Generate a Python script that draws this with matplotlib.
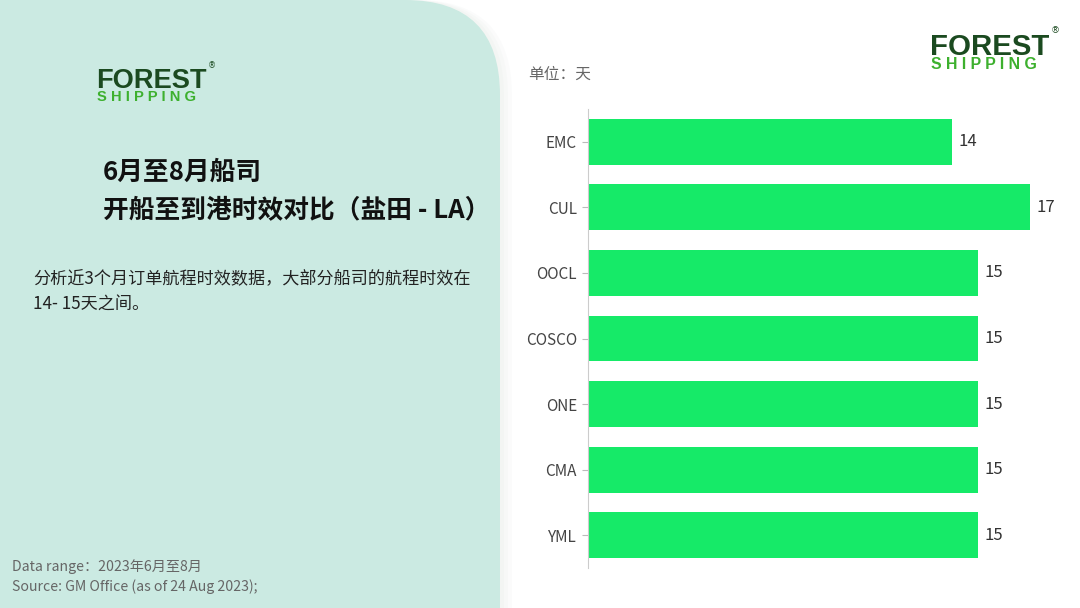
import numpy as np
import matplotlib
matplotlib.use("Agg")
import matplotlib.pyplot as plt
from matplotlib.patches import FancyBboxPatch

plt.rcParams["font.family"] = ["Noto Sans CJK SC", "DejaVu Sans"]

carriers = ["EMC", "CUL", "OOCL", "COSCO", "ONE", "CMA", "YML"]
days = [14, 17, 15, 15, 15, 15, 15]

title_lines = ["6月至8月船司", "开船至到港时效对比（盐田 - LA）"]
note_lines = ["分析近3个月订单航程时效数据，大部分船司的航程时效在", "14- 15天之间。"]
footer_lines = ["Data range：2023年6月至8月", "Source: GM Office (as of 24 Aug 2023);"]

BAR = "#16EA68"
PANEL = "#CBEAE2"
DARK = "#1B4A20"
LIGHT = "#3DB02E"
LOGO_FONT = "Liberation Sans"

W, H = 1080, 608
fig = plt.figure(figsize=(W / 100, H / 100), dpi=100)
fig.patch.set_facecolor("white")

# decoration layer in pixel coords
bg = fig.add_axes([0, 0, 1, 1])
bg.set_xlim(0, W); bg.set_ylim(H, 0); bg.axis("off")

# panel shadow + panel (rounded top-right corner)
for i in range(3):
    bg.add_patch(FancyBboxPatch((-200, 0), 700 + 4 * (i + 1), 900,
                                boxstyle="round,pad=0,rounding_size=95",
                                fc="#9ab0aa", ec="none", alpha=0.04))
bg.add_patch(FancyBboxPatch((-200, 0), 700, 900,
                            boxstyle="round,pad=0,rounding_size=95",
                            fc=PANEL, ec="none"))


def logo(x, y, s):
    # y is baseline of FOREST
    bg.text(x, y, "FOREST", fontsize=20 * s, fontweight="heavy", color=DARK,
            family=LOGO_FONT, ha="left", va="baseline")
    bg.text(x + 1, y + 13 * s, "S H I P P I N G", fontsize=10.8 * s, fontweight="bold",
            color=LIGHT, family=LOGO_FONT, ha="left", va="baseline")
    bg.text(x + 114 * s, y - 23 * s, "®", fontsize=6 * s, color=DARK,
            family="DejaVu Sans", ha="left", va="center")


logo(96, 88, 0.98)
logo(930, 55, 1.06)

# green pill with gradient
pill = FancyBboxPatch((103, 132), 65, 10, boxstyle="round,pad=0,rounding_size=5",
                      fc="none", ec="none")
bg.add_patch(pill)
grad = np.linspace(0, 1, 100).reshape(1, -1)
im = bg.imshow(grad, extent=[103, 168, 142, 132], aspect="auto",
               cmap=matplotlib.colors.LinearSegmentedColormap.from_list("g", ["#66D98E", "#2BBE33"]))
im.set_clip_path(pill)

bg.text(103, 172, title_lines[0], fontsize=18.5, fontweight="bold", color="#111111",
        ha="left", va="center")
bg.text(103, 210, title_lines[1], fontsize=18.5, fontweight="bold", color="#111111",
        ha="left", va="center")
bg.text(33, 279, note_lines[0], fontsize=12.3, color="#222222", ha="left", va="center")
bg.text(33, 305, note_lines[1], fontsize=12.3, color="#222222", ha="left", va="center")
bg.text(12, 567, footer_lines[0], fontsize=10.2, color="#666666", ha="left", va="center")
bg.text(12, 587, footer_lines[1], fontsize=10.2, color="#666666", ha="left", va="center")
bg.text(528, 74, "单位：天", fontsize=11.3, color="#666666", ha="left", va="center")

# chart axes: x0=588, top=109, bottom=568
ax = fig.add_axes([588 / W, 1 - 568 / H, (W - 588) / W, (568 - 109) / H])
ax.patch.set_alpha(0)
y = np.arange(len(carriers))
ax.barh(y, days, height=0.7, color=BAR)
ax.set_xlim(0, (W - 588) / 26)
ax.set_ylim(len(carriers) - 0.5, -0.5)
ax.set_yticks(y)
ax.set_yticklabels(carriers, fontsize=11, color="#444444")
ax.tick_params(axis="y", length=4, color="#bbbbbb", pad=4)
ax.set_xticks([])
for s in ["top", "right", "bottom"]:
    ax.spines[s].set_visible(False)
ax.spines["left"].set_color("#cccccc")
for yi, v in zip(y, days):
    ax.text(v + 0.25, yi, str(v), fontsize=12, color="#333333", ha="left", va="center")

fig.savefig("out.png", dpi=100)
